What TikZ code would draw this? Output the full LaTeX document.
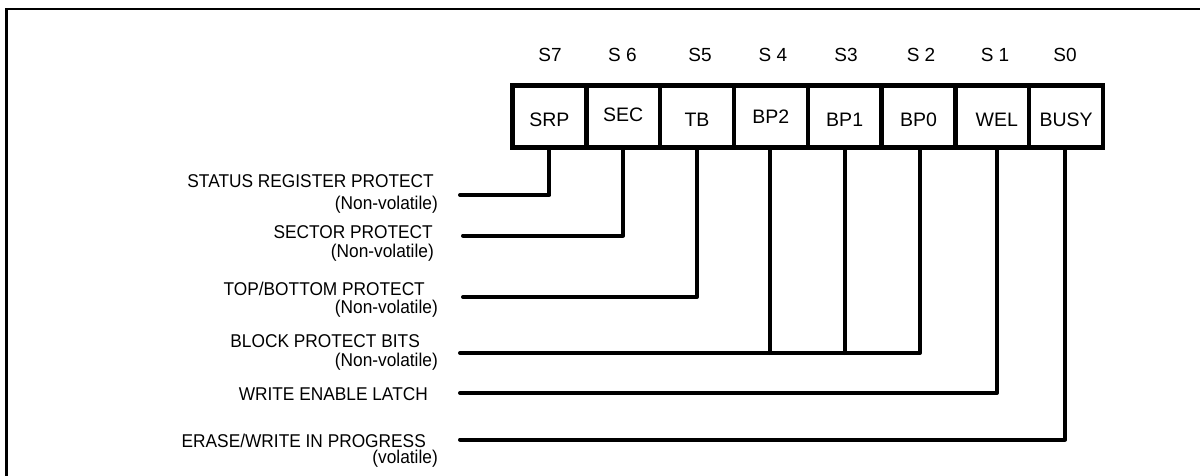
\documentclass[tikz,border=0pt]{standalone}
\usepackage{fontspec}
\setmainfont{Liberation Sans}
\newfontfamily\labfont[FakeStretch=0.935]{Liberation Sans}
\begin{document}
\begin{tikzpicture}[x=1pt,y=-1pt,
  cell/.style={draw, line width=4.5pt, minimum width=73.8125pt, minimum height=62pt,
    inner sep=0pt, font=\fontsize{19.5}{20}\selectfont, text height=20pt, text depth=0pt},
  slab/.style={anchor=base, inner sep=0pt, font=\fontsize{19}{20}\selectfont},
  lab/.style={anchor=base east, inner sep=0pt, font=\labfont\fontsize{18.5}{20}\selectfont},
  conn/.style={line width=4pt, line cap=round, line join=round},
  frameline/.style={line width=2.3pt}]
\useasboundingbox (0,0) rectangle (1200,476);
% frame
\draw[frameline] (6.5,476) -- (6.5,9) -- (1200,9);
% register cells
\node[cell] (c7) at (549.41,116.5) {SRP};
\node[cell, text height=10pt] (c6) at (623.22,116.5) {SEC};
\node[cell] (c5) at (697.03,116.5) {TB};
\node[cell, text height=14pt] (c4) at (770.84,116.5) {BP2};
\node[cell] (c3) at (844.66,116.5) {BP1};
\node[cell] (c2) at (918.47,116.5) {BP0};
\node[cell] (c1) at (992.28,116.5) {\hspace*{9pt}WEL};
\node[cell] (c0) at (1066.09,116.5) {BUSY};
% bit labels
\node[slab] (s7) at (550,62) {S7};
\node[slab] (s6) at (622.5,62) {S 6};
\node[slab] (s5) at (700,62) {S5};
\node[slab] (s4) at (773,62) {S 4};
\node[slab] (s3) at (846,62) {S3};
\node[slab] (s2) at (921,62) {S 2};
\node[slab] (s1) at (995,62) {S 1};
\node[slab] (s0) at (1065,62) {S0};
% descriptions
\node[lab] (l7) at (434,188) {STATUS REGISTER PROTECT};
\node[lab] (n7) at (438,209) {(Non-volatile)};
\node[lab] (l6) at (433,238) {SECTOR PROTECT};
\node[lab] (n6) at (434,257) {(Non-volatile)};
\node[lab] (l5) at (425,295) {TOP/BOTTOM PROTECT};
\node[lab] (n5) at (438,313.5) {(Non-volatile)};
\node[lab] (l4) at (420,347) {BLOCK PROTECT BITS};
\node[lab] (n4) at (438,366.5) {(Non-volatile)};
\node[lab] (l1) at (428,400) {WRITE ENABLE LATCH};
\node[lab] (l0) at (426,447) {ERASE/WRITE IN PROGRESS};
\node[lab] (n0) at (438,463.5) {(volatile)};
% connector ends
\coordinate (e7) at (460,195);
\coordinate (e6) at (463,235.5);
\coordinate (e5) at (463,297);
\coordinate (ebp) at (460,353);
\coordinate (e1) at (460,393);
\coordinate (e0) at (460,439.5);
% connectors
\draw[conn] (c7.south) |- (e7);
\draw[conn] (c6.south) |- (e6);
\draw[conn] (c5.south) |- (e5);
\draw[conn] ([xshift=1.5pt]c2.south) |- (ebp);
\draw[conn] (c3.south) -- (c3.south |- ebp);
\draw[conn] ([xshift=-0.8pt]c4.south) -- ([xshift=-0.8pt]c4.south |- ebp);
\draw[conn] ([xshift=4.7pt]c1.south) |- (e1);
\draw[conn] ([xshift=-1pt]c0.south) |- (e0);
\end{tikzpicture}
\end{document}
